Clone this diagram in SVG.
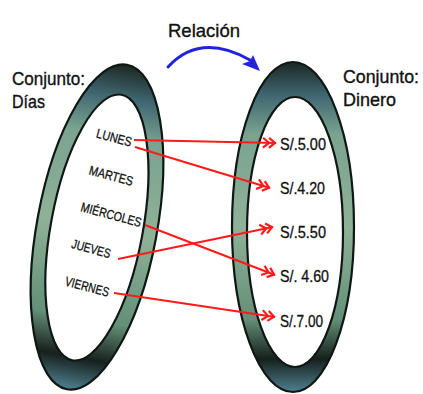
<svg xmlns="http://www.w3.org/2000/svg" width="423" height="394" viewBox="0 0 423 394">
<style>
.title{font-family:"Liberation Sans",Arial,sans-serif;font-size:18.5px;fill:#111;stroke:#111;stroke-width:0.35}
.day{font-family:"Liberation Sans",Arial,sans-serif;font-size:13px;fill:#111;stroke:#111;stroke-width:0.3;text-anchor:middle}
.money{font-family:"Liberation Sans",Arial,sans-serif;font-size:16px;fill:#111;stroke:#111;stroke-width:0.3}
.ring{fill:url(#ringGrad);fill-rule:evenodd;stroke:#0f1712;stroke-width:2.2}
.rel{fill:none;stroke:#ff1a1a;stroke-width:2;marker-end:url(#chev)}
</style>
<defs>
<linearGradient id="ringGrad" x1="0" y1="0" x2="0" y2="1">
<stop offset="0" stop-color="#1c2722"/>
<stop offset="0.1" stop-color="#3f6670"/>
<stop offset="0.22" stop-color="#7aa390"/>
<stop offset="0.5" stop-color="#8fb198"/>
<stop offset="0.78" stop-color="#648f78"/>
<stop offset="0.9" stop-color="#16201c"/>
<stop offset="1" stop-color="#4f8090"/>
</linearGradient>
<marker id="chev" markerUnits="userSpaceOnUse" viewBox="-15 -7 17 14" markerWidth="17" markerHeight="14" refX="0" refY="0" orient="auto" overflow="visible">
<path d="M-13,-5 L-7,0 L-13,5 M-7,-5 L-1,0 L-7,5" fill="none" stroke="#ff1a1a" stroke-width="2.2" stroke-linejoin="miter"/>
</marker>
</defs>
<rect width="423" height="394" fill="#fff"/>
<g id="set-dias">
<g transform="rotate(10.5 97 227)">
<path class="ring" d="M37,227 a60,165 0 1,0 120,0 a60,165 0 1,0 -120,0 Z M51,227.5 a46,135 0 1,0 92,0 a46,135 0 1,0 -92,0 Z"/>
</g>
<text class="title" x="12" y="85" textLength="73" lengthAdjust="spacingAndGlyphs">Conjunto:</text>
<text class="title" x="12" y="108" textLength="33" lengthAdjust="spacingAndGlyphs">Días</text>
</g>
<g id="set-dinero">
<path class="ring" d="M232,227 a61,165 0 1,0 122,0 a61,165 0 1,0 -122,0 Z M247,232 a48,135 0 1,0 96,0 a48,135 0 1,0 -96,0 Z"/>
<text class="title" x="343" y="83" textLength="76" lengthAdjust="spacingAndGlyphs">Conjunto:</text>
<text class="title" x="343" y="106" textLength="53" lengthAdjust="spacingAndGlyphs">Dinero</text>
</g>
<g id="days">
<text class="day" transform="translate(113 142) rotate(15)" textLength="36" lengthAdjust="spacingAndGlyphs">LUNES</text>
<text class="day" transform="translate(110 180) rotate(15)" textLength="45" lengthAdjust="spacingAndGlyphs">MARTES</text>
<text class="day" transform="translate(110 219) rotate(15)" textLength="62" lengthAdjust="spacingAndGlyphs">MIÉRCOLES</text>
<text class="day" transform="translate(90 253) rotate(15)" textLength="40" lengthAdjust="spacingAndGlyphs">JUEVES</text>
<text class="day" transform="translate(86 291) rotate(15)" textLength="45" lengthAdjust="spacingAndGlyphs">VIERNES</text>
</g>
<g id="money">
<text class="money" x="280" y="150" textLength="46" lengthAdjust="spacingAndGlyphs">S/.5.00</text>
<text class="money" x="280" y="194" textLength="45" lengthAdjust="spacingAndGlyphs">S/.4.20</text>
<text class="money" x="280" y="238" textLength="46" lengthAdjust="spacingAndGlyphs">S/.5.50</text>
<text class="money" x="280" y="282" textLength="49" lengthAdjust="spacingAndGlyphs">S/. 4.60</text>
<text class="money" x="280" y="327" textLength="43" lengthAdjust="spacingAndGlyphs">S/.7.00</text>
</g>
<g id="relacion">
<text class="title" x="168" y="37" font-size="21" textLength="72" lengthAdjust="spacingAndGlyphs">Relación</text>
<path d="M168,67 Q200,32 250,60" fill="none" stroke="#2222dd" stroke-width="3" stroke-linecap="round"/>
<path d="M260,71 L253,55 L250,61 L242,64 Z" fill="#2222dd"/>
</g>
<g id="connectors">
<line class="rel" x1="134" y1="140" x2="276" y2="143"/>
<line class="rel" x1="135" y1="147" x2="270" y2="188"/>
<line class="rel" x1="145" y1="225" x2="275" y2="275"/>
<line class="rel" x1="118" y1="259" x2="273" y2="227"/>
<line class="rel" x1="114" y1="293" x2="275" y2="317"/>
</g>
</svg>
